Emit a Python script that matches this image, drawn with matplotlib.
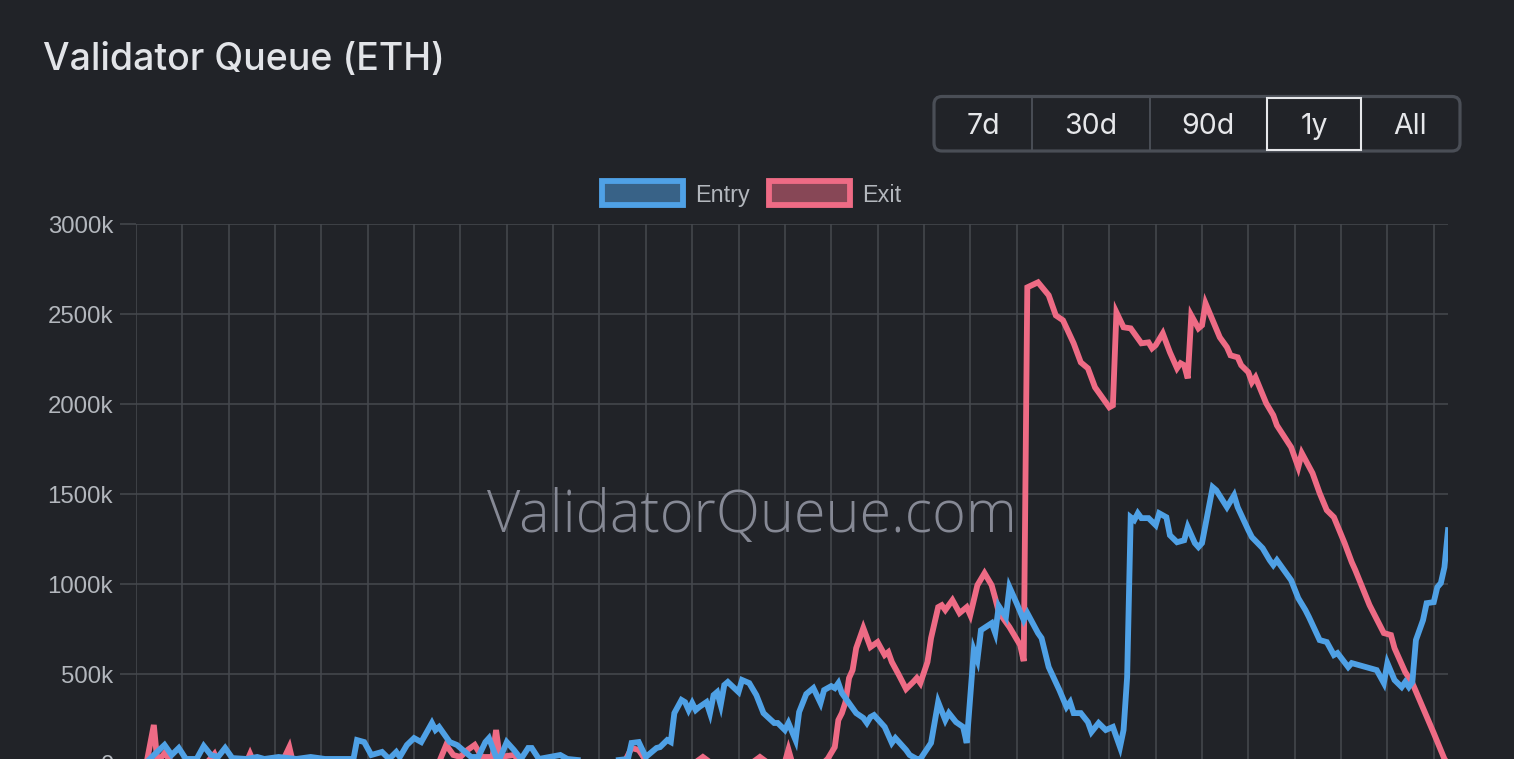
import matplotlib.pyplot as plt
from matplotlib.patches import FancyBboxPatch, Rectangle
from matplotlib.colors import to_rgba

# values (day index in the 1y window, queue size in k ETH)
entry_day = [0, 3, 5, 8, 10, 12, 14, 17, 19, 21, 23, 25, 27, 31, 34, 36, 40, 45, 49, 53,
             61, 62, 64, 66, 69, 71, 73, 74, 76, 78, 80, 83, 84, 85, 88, 90, 94, 96, 98, 99,
             101, 102, 104, 106, 108, 110, 111, 113, 119, 121, 130, 138, 139, 141, 143, 146, 147, 149, 150, 151,
             153, 154, 155, 156, 157, 158, 160, 161, 162, 163, 164, 165, 166, 169, 170, 172, 174, 176, 179, 180,
             182, 183, 185, 186, 188, 190, 192, 193, 195, 196, 197, 198, 200, 202, 204, 205, 206, 207, 210, 211,
             212, 213, 216, 217, 219, 220, 223, 225, 227, 228, 230, 232, 233, 235, 236, 237, 240, 241, 242, 244,
             245, 247, 249, 250, 253, 254, 256, 259, 261, 262, 263, 265, 267, 268, 270, 272, 274, 276, 277, 278,
             279, 280, 281, 282, 284, 286, 287, 289, 290, 292, 294, 295, 297, 298, 299, 302, 303, 306, 308, 309,
             312, 313, 316, 318, 319, 320, 322, 324, 326, 328, 329, 332, 334, 336, 337, 340, 341, 346, 348, 350,
             351, 353, 355, 356, 357, 358, 359, 361, 362, 364, 365, 366, 367, 368]
entry_k = [0, 10, 50, 106, 50, 89, 28, 28, 100, 50, 39, 89, 33, 28, 39, 28, 39, 28, 39, 28,
           28, 133, 122, 50, 67, 28, 67, 39, 106, 144, 122, 228, 189, 206, 122, 106, 39, 39, 122, 144,
           39, 28, 122, 78, 28, 89, 89, 28, 50, 28, 10, 28, 117, 122, 39, 89, 94, 133, 122, 283,
           356, 344, 300, 339, 300, 317, 344, 283, 383, 400, 328, 439, 456, 400, 467, 450, 383, 283, 228, 228,
           189, 228, 133, 289, 389, 422, 339, 411, 433, 422, 450, 394, 339, 283, 256, 228, 261, 272, 206, 161,
           117, 144, 78, 50, 28, 28, 117, 344, 244, 283, 233, 206, 117, 633, 578, 744, 783, 728, 878, 817,
           983, 894, 800, 839, 728, 700, 539, 411, 317, 344, 283, 283, 233, 178, 228, 189, 206, 94, 189, 483,
           1372, 1356, 1394, 1367, 1367, 1328, 1394, 1372, 1272, 1233, 1244, 1317, 1228, 1206, 1228, 1539, 1522, 1428, 1494, 1428,
           1300, 1261, 1200, 1133, 1106, 1133, 1078, 1022, 922, 856, 817, 689, 678, 606, 617, 539, 561, 533, 522, 450,
           561, 467, 428, 456, 428, 456, 689, 800, 894, 900, 983, 1006, 1094, 1300]

exit_day = [0, 3, 5, 6, 8, 10, 20, 22, 23, 31, 32, 33, 41, 43, 44, 85, 87, 89, 91, 93,
            95, 97, 100, 101, 102, 106, 108, 137, 139, 141, 143, 157, 159, 161, 173, 175, 177, 182, 183, 184,
            193, 194, 196, 197, 198, 199, 200, 201, 202, 204, 206, 208, 210, 211, 212, 214, 216, 218, 219, 220,
            222, 223, 225, 226, 227, 229, 231, 233, 234, 236, 238, 240, 241, 242, 245, 248, 249, 250, 253, 256,
            258, 260, 263, 265, 267, 269, 271, 273, 274, 275, 277, 279, 281, 282, 284, 285, 286, 288, 290, 292,
            293, 294, 295, 296, 298, 299, 300, 302, 304, 306, 307, 309, 310, 312, 313, 314, 317, 319, 320, 324,
            326, 327, 330, 332, 334, 336, 339, 341, 342, 346, 347, 350, 352, 353, 356, 358, 361, 364, 367, 368]
exit_k = [0, 10, 217, 10, 60, 10, 10, 56, 10, 10, 56, 10, 10, 94, 10, 10, 106, 50, 39, 78,
          106, 39, 39, 189, 39, 50, 10, 10, 89, 78, 20, 10, 39, 10, 10, 39, 10, 10, 80, 10,
          10, 28, 94, 244, 283, 344, 478, 522, 644, 756, 650, 678, 606, 622, 567, 494, 417, 456, 478, 450,
          567, 700, 872, 883, 856, 911, 839, 872, 828, 994, 1061, 994, 922, 844, 761, 661, 572, 2650, 2678, 2606,
          2494, 2467, 2339, 2233, 2200, 2094, 2039, 1983, 1994, 2511, 2428, 2422, 2367, 2339, 2344, 2311, 2328, 2394, 2289, 2200,
          2228, 2217, 2144, 2494, 2422, 2439, 2561, 2467, 2372, 2317, 2272, 2261, 2217, 2178, 2122, 2150, 2006, 1939, 1883, 1761,
          1650, 1728, 1617, 1506, 1411, 1372, 1228, 1122, 1078, 883, 844, 728, 717, 644, 511, 450, 311, 172, 28, 0]

y_ticks = [0, 500, 1000, 1500, 2000, 2500, 3000]
ranges = ["7d", "30d", "90d", "1y", "All"]

BG = "#212328"
GRID = "#46494f"
BLUE = "#4fa1e6"
RED = "#ee6b85"
LABEL = "#b3b7bd"

W, H = 1514, 759
fig = plt.figure(figsize=(W / 100, H / 100), dpi=100, facecolor=BG)

# plot area: 0 sits just under the bottom edge of the picture
ax = fig.add_axes([136 / W, (H - 764) / H, 1312 / W, 539.6 / H])
ax.set_facecolor(BG)
for s in ax.spines.values():
    s.set_visible(False)
ax.set_xlim(0, 368)
ax.set_ylim(0, 3000)
ax.set_xticks(range(0, 369, 13))
ax.set_yticks(y_ticks)
ax.set_yticklabels([f"{v}k" if v else "0" for v in y_ticks], family="Liberation Sans")
ax.grid(color=GRID, lw=1.1)
ax.set_axisbelow(True)
ax.tick_params(axis="y", length=11.5, width=1.1, color=GRID, labelcolor=LABEL, labelsize=17.3, pad=5)
ax.tick_params(axis="x", length=0, labelbottom=False)

ax.plot(exit_day, exit_k, color=RED, lw=4.2, solid_joinstyle="miter", zorder=3)
ax.plot(entry_day, entry_k, color=BLUE, lw=4.2, solid_joinstyle="miter", zorder=4)

ax.text(752 / W, 1 - 517 / H, "ValidatorQueue.com", transform=fig.transFigure,
        ha="center", va="center", fontsize=41.5, color="#868995", family="Open Sans",
        weight="light", zorder=2.5)

# header, range buttons and legend drawn in pixel space
ui = fig.add_axes([0, 0, 1, 1])
ui.set_xlim(0, W)
ui.set_ylim(H, 0)
ui.axis("off")

ui.text(43, 70, "Validator Queue (ETH)", fontsize=27, weight="medium",
        color="#e2e4e8", family="Inter", va="baseline")

ui.add_patch(FancyBboxPatch((934, 96.5), 526, 54.5, boxstyle="round,pad=0,rounding_size=8",
                            fc="none", ec="#4a4e56", lw=2.3))
for xd in [1032, 1150]:
    ui.plot([xd, xd], [97, 151], color="#4a4e56", lw=1.4)
ui.add_patch(Rectangle((1267, 97.5), 94, 52.5, fc="none", ec="#e6e7ea", lw=1.5))
for label, cx in zip(ranges, [983, 1091, 1208, 1314, 1410]):
    ui.text(cx, 134, label, ha="center", va="baseline", fontsize=20.5, color="#e6e7ea", family="Inter")

for name, col, x0 in [("Entry", BLUE, 601.5), ("Exit", RED, 769)]:
    ui.add_patch(Rectangle((x0, 181), 81, 24, fc=to_rgba(col, 0.5), ec=col, lw=4.2))
    ui.text(x0 + 93.5, 202, name, va="baseline", fontsize=16.8, color=LABEL, family="Liberation Sans")

fig.savefig("out.png", dpi=100, facecolor=BG)
